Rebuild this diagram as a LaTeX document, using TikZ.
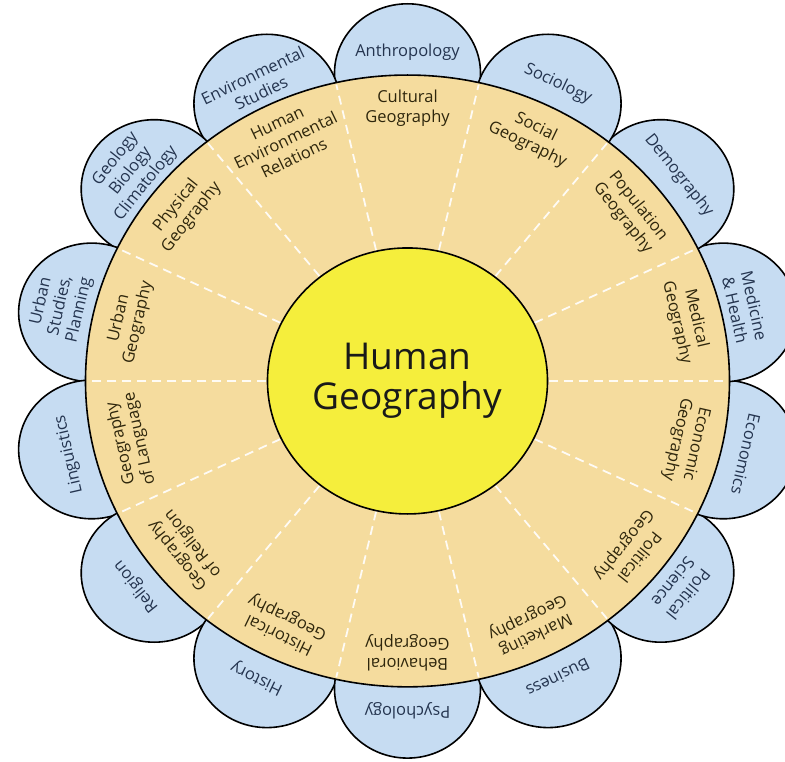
\documentclass[tikz,border=0pt]{standalone}
\usepackage{fontspec}
\setmainfont{Open Sans}
\definecolor{petalblue}{HTML}{C6DCF2}
\definecolor{ringtan}{HTML}{F5DC9E}
\definecolor{hubyellow}{HTML}{F5EE3C}
\definecolor{petaltext}{HTML}{24344F}
\definecolor{ringtext}{HTML}{2E260C}
\tikzset{
  petal/.style={draw=black,line width=1.6pt,fill=petalblue},
  divider/.style={draw=white!90!ringtan,line width=1.8pt,dash pattern=on 9pt off 6pt},
  ringlabel/.style={align=center,text=ringtext,inner sep=0pt,font=\fontsize{16.5}{19.5}\selectfont},
  petallabel/.style={align=center,text=petaltext,inner sep=0pt,font=\fontsize{16.5}{19.5}\selectfont}
}

\begin{document}
\begin{tikzpicture}[x=1pt,y=1pt,yscale=0.95]
\useasboundingbox (-407.5,-400.5) rectangle (377.5,401);
% outer petals, then the ring on top of them
\foreach \k in {0,...,13}
  \draw[petal] ({90+\k*360/14}:324) circle (73);
\draw[line width=1.6pt,fill=ringtan] (0,0) circle (322);
\foreach \k in {0,...,13}
  \draw[divider] ({\k*360/14}:141) -- ({\k*360/14}:320);
\draw[line width=1.6pt,fill=hubyellow] (0,0) circle (140);
\node[align=center,text=black!90,font=\fontsize{37}{40}\selectfont] (hub) at (0,0) {Human\\Geography};

% ring labels
\node[ringlabel,rotate=0]       (cultgeo) at (90:287)     {Cultural\\Geography};
\node[ringlabel,rotate=25.71]   (humenv)  at (115.71:281) {Human\\Environmental\\Relations};
\node[ringlabel,rotate=51.43]   (physgeo) at (141.43:286) {Physical\\Geography};
\node[ringlabel,rotate=77.14]   (urbgeo)  at (167.14:286) {Urban\\Geography};
\node[ringlabel,rotate=102.86]  (langgeo) at (192.86:284) {Geography\\of Language};
\node[ringlabel,rotate=128.57]  (relgeo)  at (218.57:284) {Geography\\of Religion};
\node[ringlabel,rotate=154.29]  (histgeo) at (244.29:286) {Historical\\Geography};
\node[ringlabel,rotate=180]     (behgeo)  at (270:286)    {Behavioral\\Geography};
\node[ringlabel,rotate=205.71]  (mktgeo)  at (295.71:286) {Marketing\\Geography};
\node[ringlabel,rotate=231.43]  (polgeo)  at (321.43:286) {Political\\Geography};
\node[ringlabel,rotate=257.14]  (ecogeo)  at (347.14:286) {Economic\\Geography};
\node[ringlabel,rotate=-77.14]  (medgeo)  at (12.86:286)  {Medical\\Geography};
\node[ringlabel,rotate=-51.43]  (popgeo)  at (38.57:285)  {Population\\Geography};
\node[ringlabel,rotate=-25.71]  (socgeo)  at (64.29:286)  {Social\\Geography};

% petal labels
\node[petallabel,rotate=0]      (anthro)    at (90:346)     {Anthropology};
\node[petallabel,rotate=25.71]  (envstud)   at (115.71:347) {Environmental\\Studies};
\node[petallabel,rotate=51.43]  (natsci)    at (141.43:354) {Geology\\Biology\\Climatology};
\node[petallabel,rotate=77.14]  (urbstud)   at (167.14:356) {Urban\\Studies,\\Planning};
\node[petallabel,rotate=102.86] (ling)      at (192.86:347) {Linguistics};
\node[petallabel,rotate=128.57] (relig)     at (218.57:347) {Religion};
\node[petallabel,rotate=154.29] (hist)      at (244.29:347) {History};
\node[petallabel,rotate=180]    (psych)     at (270:347)    {Psychology};
\node[petallabel,rotate=205.71] (bus)       at (295.71:347) {Business};
\node[petallabel,rotate=231.43] (polsci)    at (321.43:350) {Political\\Science};
\node[petallabel,rotate=257.14] (econ)      at (347.14:347) {Economics};
\node[petallabel,rotate=-77.14] (medhealth) at (12.86:346)  {Medicine\\\& Health};
\node[petallabel,rotate=-51.43] (demog)     at (38.57:347)  {Demography};
\node[petallabel,rotate=-25.71] (sociol)    at (64.29:347)  {Sociology};
\end{tikzpicture}
\end{document}
